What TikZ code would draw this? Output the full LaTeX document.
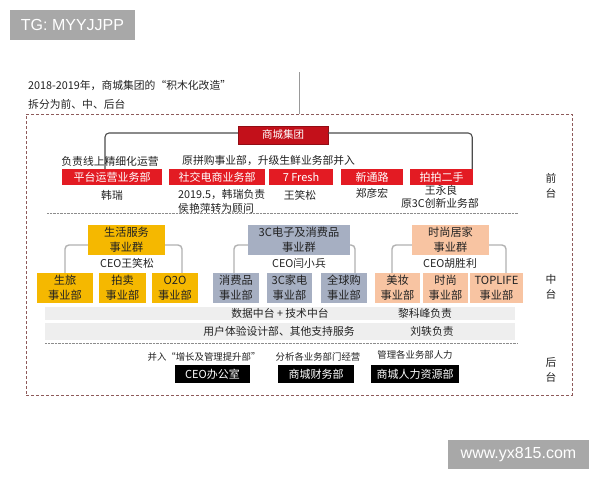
\documentclass[tikz,border=0pt]{standalone}
\usepackage{fontspec}
\setmainfont{Noto Sans CJK SC}
\newfontfamily\wmfont{Liberation Sans}
\usetikzlibrary{positioning}
\definecolor{grpred}{HTML}{C3101A}
\definecolor{unitred}{HTML}{E31B23}
\definecolor{lifeyel}{HTML}{F5B800}
\definecolor{techgray}{HTML}{A6AFC2}
\definecolor{homepink}{HTML}{F8C4A2}
\definecolor{bandgray}{HTML}{EEEEEE}
\definecolor{framered}{HTML}{8E5A5A}
\definecolor{wmgray}{HTML}{A8A8A8}
\definecolor{txt}{HTML}{222222}
\tikzset{
    group/.style={
    rectangle,fill=grpred,draw=grpred!75!black,text=white,inner sep=0pt,
    minimum height=18pt,font=\fontsize{10.5}{12}\selectfont
    },
    unit/.style={
    rectangle,fill=unitred,text=white,inner sep=0pt,minimum height=16pt,
    font=\fontsize{11}{12}\selectfont
    },
    bizgroup/.style={
    rectangle,inner sep=0pt,minimum height=30pt,align=center,text=txt,
    font=\fontsize{11.2}{15}\selectfont
    },
    biz/.style={
    rectangle,inner sep=0pt,minimum height=30pt,align=center,text=txt,
    font=\fontsize{11.2}{15}\selectfont
    },
    back/.style={
    rectangle,fill=black,text=white,inner sep=0pt,minimum height=18pt,
    font=\fontsize{11}{12}\selectfont
    },
    band/.style={
    rectangle,fill=bandgray,inner sep=0pt,minimum width=470pt
    },
    note/.style={
    text=txt,inner sep=0pt,font=\fontsize{10.8}{13}\selectfont
    },
    smallnote/.style={
    text=txt,inner sep=0pt,font=\fontsize{9.4}{11}\selectfont
    },
    side/.style={
    text=txt,inner sep=0pt,align=center,font=\fontsize{10.8}{15}\selectfont
    },
    topline/.style={
    draw=black!70,line width=1.1pt,rounded corners=4pt
    },
    midline/.style={
    draw=black!30,line width=1.4pt,rounded corners=4pt
    },
    sep/.style={
    draw=black!45,densely dotted
    },
    wm/.style={
    rectangle,fill=wmgray,text=white,inner sep=0pt,font=\wmfont\fontsize{16}{18}\selectfont
    },
}

\begin{document}
\begin{tikzpicture}[x=1pt,y=-1pt]
  \useasboundingbox[fill=white] (0,0) rectangle (600,480);

  \node[wm,minimum width=125pt,minimum height=30pt] (tg) at (72.5,25) {TG: MYYJJPP};
  \node[wm,minimum width=141pt,minimum height=29pt] (web) at (518.5,454.5) {www.yx815.com};

  \node[note,anchor=west] (title1) at (28,85) {2018-2019年，商城集团的“积木化改造”};
  \node[note,anchor=west] (title2) at (28,104) {拆分为前、中、后台};

  \node[draw=framered,densely dashed,line width=0.9pt,minimum width=546pt,minimum height=281pt] (frame) at (299,254.5) {};
  \coordinate (cut) at (299,72);
  \draw[black!40,line width=0.8pt] (cut) -- (frame.north);

  % front
  \node[group,minimum width=90pt] (grp) at (283,135) {商城集团};
  \node[unit,minimum width=100pt] (ptyy) at (112,177) {平台运营业务部};
  \node[unit,minimum width=96pt] (sjds) at (217,177) {社交电商业务部};
  \node[unit,minimum width=64pt] (fresh) at (301,177) {7 Fresh};
  \node[unit,minimum width=62pt] (xtl) at (372,177) {新通路};
  \node[unit,minimum width=63pt] (ppes) at (441.5,177) {拍拍二手};
  \draw[topline] ([yshift=2pt]grp.west) -| ([xshift=-7pt]ptyy.north);
  \draw[topline] ([yshift=2pt]grp.east) -| ([xshift=-1pt]ppes.north east);

  \node[note] (ptyynote) at (110,161) {负责线上精细化运营};
  \node[note,anchor=west] (sjdsnote) at (182,161) {原拼购事业部，升级生鲜业务部并入};
  \node[note] (hanrui) at (112,195) {韩瑞};
  \node[note,anchor=west] (sjdslead) at (178,195) {2019.5，韩瑞负责};
  \node[note,anchor=west] (hou) at (178,208) {侯艳萍转为顾问};
  \node[note] (wangxs) at (300,195) {王笑松};
  \node[note] (zhengyh) at (372,193) {郑彦宏};
  \node[note] (wangyl) at (441,190) {王永良};
  \node[note] (ppeslead) at (440,203) {原3C创新业务部};
  \node[side] (qiantai) at (551,185.5) {前\\台};
  \draw[sep] (47,213) -- (518,213);

  % middle
  \node[bizgroup,fill=lifeyel,minimum width=77pt] (shfw) at (126.5,240) {生活服务\\事业群};
  \node[note] (shfwceo) at (127,263) {CEO王笑松};
  \node[biz,fill=lifeyel,minimum width=56pt] (sl) at (65,288) {生旅\\事业部};
  \node[biz,fill=lifeyel,minimum width=47pt] (pm) at (122.5,288) {拍卖\\事业部};
  \node[biz,fill=lifeyel,minimum width=46pt] (oto) at (175,288) {O2O\\事业部};
  \draw[midline] ([yshift=-5pt]shfw.west) -| (sl.north);
  \draw[midline] ([yshift=-5pt]shfw.east) -| ([xshift=7pt]oto.north);

  \node[bizgroup,fill=techgray,minimum width=102pt] (dzxf) at (299,240) {3C电子及消费品\\事业群};
  \node[note] (dzxfceo) at (299,263) {CEO闫小兵};
  \node[biz,fill=techgray,minimum width=46pt] (xfp) at (236,288) {消费品\\事业部};
  \node[biz,fill=techgray,minimum width=45pt] (jd) at (289.5,288) {3C家电\\事业部};
  \node[biz,fill=techgray,minimum width=46pt] (qqg) at (344,288) {全球购\\事业部};
  \draw[midline] ([yshift=-5pt]dzxf.west) -| ([xshift=-2pt]xfp.north);
  \draw[midline] ([yshift=-5pt]dzxf.east) -| ([xshift=11pt]qqg.north);

  \node[bizgroup,fill=homepink,minimum width=77pt] (sszj) at (450.5,240) {时尚居家\\事业群};
  \node[note] (sszjceo) at (450,263) {CEO胡胜利};
  \node[biz,fill=homepink,minimum width=45pt] (mz) at (397.5,288) {美妆\\事业部};
  \node[biz,fill=homepink,minimum width=45pt] (ss) at (445.5,288) {时尚\\事业部};
  \node[biz,fill=homepink,minimum width=53pt] (tl) at (496.5,288) {TOPLIFE\\事业部};
  \draw[midline] ([yshift=-5pt]sszj.west) -| ([xshift=-5.5pt]mz.north);
  \draw[midline] ([yshift=-5pt]sszj.east) -| ([xshift=9.5pt]tl.north);

  \node[band,minimum height=13pt] (data) at (280,313.5) {};
  \node[note] (datatxt) at (280,313.5) {数据中台 + 技术中台};
  \node[note] (datalead) at (425,313.5) {黎科峰负责};
  \node[band,minimum height=17pt] (ux) at (280,331.5) {};
  \node[note] (uxtxt) at (279,331.5) {用户体验设计部、其他支持服务};
  \node[note] (uxlead) at (432,331.5) {刘轶负责};
  \node[side] (zhongtai) at (551,286.5) {中\\台};
  \draw[sep] (45,343) -- (518,343);

  % back
  \node[smallnote] (ceonote) at (204,357) {并入“增长及管理提升部”};
  \node[smallnote] (cwnote) at (318,357) {分析各业务部门经营};
  \node[smallnote] (hrnote) at (415,355) {管理各业务部人力};
  \node[back,minimum width=75pt] (ceo) at (212.5,374) {CEO办公室};
  \node[back,minimum width=76pt] (cw) at (316,374) {商城财务部};
  \node[back,minimum width=88pt] (hr) at (415,374) {商城人力资源部};
  \node[side] (houtai) at (551,369.5) {后\\台};
\end{tikzpicture}
\end{document}
